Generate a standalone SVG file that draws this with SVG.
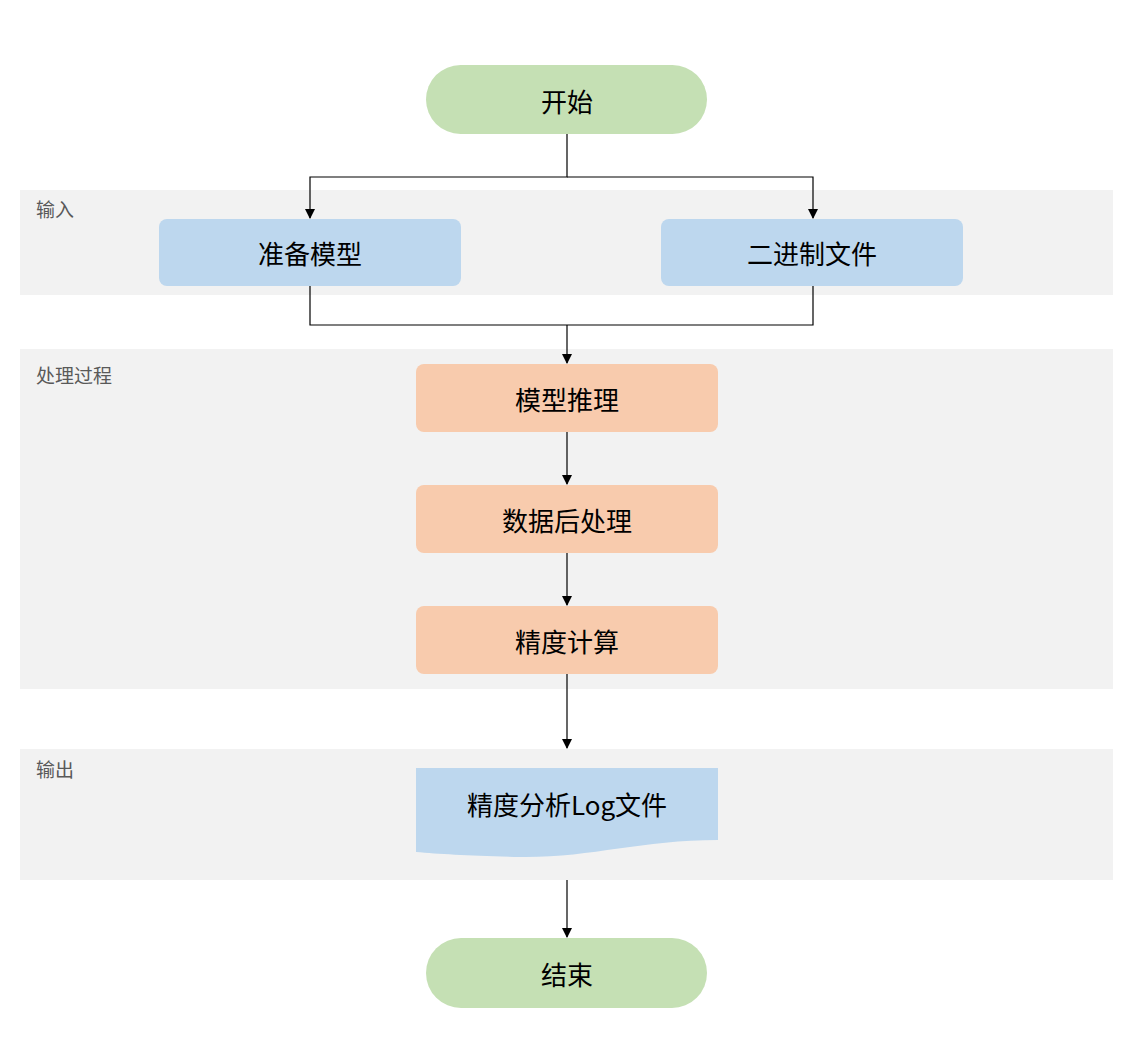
<svg xmlns="http://www.w3.org/2000/svg" width="1133" height="1064" viewBox="0 0 1133 1064">
<style>
.band{fill:#f2f2f2}
.bl{font-family:"Noto Sans CJK SC","Noto Sans",sans-serif;font-size:19px;fill:#595959}
.t{font-family:"Noto Sans CJK SC","Noto Sans",sans-serif;font-size:26px;fill:#000;text-anchor:middle;dominant-baseline:central}
.term{fill:#c5e0b4}
.blue{fill:#bdd7ee}
.org{fill:#f8cbad}
.c{fill:none;stroke:#000;stroke-width:1.2}
</style>
<defs><marker id="a" markerWidth="10" markerHeight="10" refX="9" refY="5" orient="auto" markerUnits="userSpaceOnUse"><path d="M0,0 L10,5 L0,10Z" fill="#000"/></marker></defs>
<rect width="1133" height="1064" fill="#fff"/>
<g id="bands">
<rect class="band" x="20" y="190" width="1093" height="105"/>
<rect class="band" x="20" y="349" width="1093" height="340"/>
<rect class="band" x="20" y="749" width="1093" height="131"/>
<text class="bl" x="36" y="217">输入</text>
<text class="bl" x="36" y="383">处理过程</text>
<text class="bl" x="36" y="777">输出</text>
</g>
<g id="connectors">
<path class="c" d="M567,134 V177 H310 V218" marker-end="url(#a)"/>
<path class="c" d="M567,177 H813 V218" marker-end="url(#a)"/>
<path class="c" d="M310,286 V325 H813 V286"/>
<path class="c" d="M567,325 V363" marker-end="url(#a)"/>
<path class="c" d="M567,432 V484" marker-end="url(#a)"/>
<path class="c" d="M567,553 V605" marker-end="url(#a)"/>
<path class="c" d="M567,674 V748" marker-end="url(#a)"/>
<path class="c" d="M567,880 V937" marker-end="url(#a)"/>
</g>
<g id="start"><rect class="term" x="426" y="65" width="281" height="69" rx="34.5"/><text class="t" x="567" y="100">开始</text></g>
<g id="n1"><rect class="blue" x="159" y="219" width="302" height="67" rx="8"/><text class="t" x="310" y="252">准备模型</text></g>
<g id="n2"><rect class="blue" x="661" y="219" width="302" height="67" rx="8"/><text class="t" x="812" y="252">二进制文件</text></g>
<g id="n3"><rect class="org" x="416" y="364" width="302" height="68" rx="8"/><text class="t" x="567" y="398">模型推理</text></g>
<g id="n4"><rect class="org" x="416" y="485" width="302" height="68" rx="8"/><text class="t" x="567" y="519">数据后处理</text></g>
<g id="n5"><rect class="org" x="416" y="606" width="302" height="68" rx="8"/><text class="t" x="567" y="640">精度计算</text></g>
<g id="n6"><path class="blue" d="M416,768 H718 V840 C640,840 590,858 520,857 C470,856 440,854 416,852 Z"/><text class="t" x="567" y="803">精度分析Log文件</text></g>
<g id="end"><rect class="term" x="426" y="938" width="281" height="70" rx="35"/><text class="t" x="567" y="973">结束</text></g>
</svg>
